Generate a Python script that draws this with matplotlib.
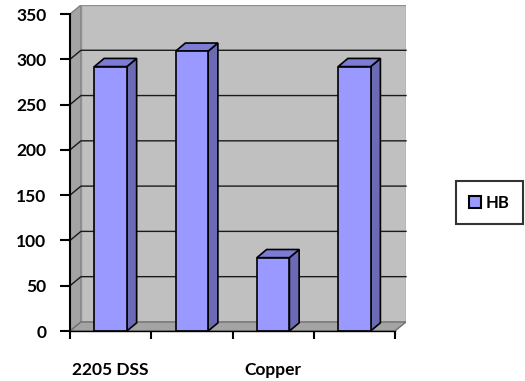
import matplotlib
matplotlib.use("Agg")
import matplotlib.pyplot as plt
from matplotlib.patches import Polygon, Rectangle, Patch

categories = ["2205 DSS", "", "Copper", ""]
hb_values = [292, 309, 81, 292]
y_ticks = [0, 50, 100, 150, 200, 250, 300, 350]

FRONT = "#9999ff"
SIDE = "#6a6ab5"
TOP = "#7c7cd6"
WALL = "#c0c0c0"
SIDE_WALL = "#a4a4a4"
FLOOR = "#a4a4a4"

# depth of the 3-D box, in data units (x: categories, y: HB)
WALL_DX = 0.135
WALL_DY = 10
BAR_W = 0.4
BAR_DX = 0.12
BAR_DY = 9

plt.rcParams["font.family"] = ["Lato", "DejaVu Sans"]
plt.rcParams["font.weight"] = "bold"

fig = plt.figure(figsize=(5.25, 3.81), dpi=100)
ax = fig.add_axes([70 / 525, 50 / 381, 336 / 525, 326 / 381])

n = len(categories)
ymax = y_ticks[-1]
ax.set_xlim(0, n + WALL_DX)
ax.set_ylim(0, ymax + WALL_DY)

# walls and floor
ax.add_patch(Polygon([(0, 0), (WALL_DX, WALL_DY), (WALL_DX, ymax + WALL_DY), (0, ymax)],
                     closed=True, facecolor=SIDE_WALL, edgecolor="#808080", lw=1, zorder=1))
ax.add_patch(Rectangle((WALL_DX, WALL_DY), n, ymax, facecolor=WALL,
                       edgecolor="#909090", lw=1, zorder=1))
ax.add_patch(Polygon([(0, 0), (n, 0), (n + WALL_DX, WALL_DY), (WALL_DX, WALL_DY)],
                     closed=True, facecolor=FLOOR, edgecolor="#707070", lw=1, zorder=1))

# gridlines on the back wall and the side wall
for v in y_ticks[1:-1]:
    ax.plot([0, WALL_DX, n + WALL_DX], [v, v + WALL_DY, v + WALL_DY],
            color="#1a1a1a", lw=1, zorder=2, clip_on=False)

# columns
for i, v in enumerate(hb_values):
    left = i + 0.5 - BAR_W / 2
    right = left + BAR_W
    ax.add_patch(Polygon([(right, 0), (right + BAR_DX, BAR_DY), (right + BAR_DX, v + BAR_DY), (right, v)],
                         closed=True, facecolor=SIDE, edgecolor="black", lw=1.2, zorder=3))
    ax.add_patch(Polygon([(left, v), (right, v), (right + BAR_DX, v + BAR_DY), (left + BAR_DX, v + BAR_DY)],
                         closed=True, facecolor=TOP, edgecolor="black", lw=1.2, zorder=3))
    ax.add_patch(Rectangle((left, 0), BAR_W, v, facecolor=FRONT, edgecolor="black",
                           lw=1.2, zorder=4))

for side in ["top", "right"]:
    ax.spines[side].set_visible(False)
ax.spines["left"].set_bounds(0, ymax)
ax.spines["bottom"].set_bounds(0, n)
ax.spines["left"].set_linewidth(1.5)
ax.spines["bottom"].set_linewidth(1)
ax.spines["left"].set_zorder(5)
ax.spines["bottom"].set_zorder(5)

ax.set_yticks(y_ticks)
ax.set_yticklabels([str(t) for t in y_ticks], fontsize=12.5, fontweight="bold")
ax.tick_params(axis="y", length=7, width=1.5, pad=10)

ax.set_xticks(range(n + 1))
ax.set_xticklabels([])
ax.set_xticks([i + 0.5 for i in range(n)], minor=True)
ax.set_xticklabels(categories, minor=True, fontsize=12.5, fontweight="bold")
ax.tick_params(axis="x", which="major", length=6, width=1.5)
ax.tick_params(axis="x", which="minor", length=0, pad=22)

leg = fig.legend(handles=[Patch(facecolor=FRONT, edgecolor="black", lw=1.5, label="HB")],
                 loc="center", bbox_to_anchor=(489.5 / 525, 1 - 202.5 / 381),
                 prop={"weight": "bold", "size": 12}, frameon=True, fancybox=False,
                 handlelength=0.7, handleheight=0.7, handletextpad=0.3,
                 borderpad=0.8, borderaxespad=0)
leg.get_frame().set_edgecolor("black")
leg.get_frame().set_linewidth(1.5)

fig.savefig("out.png", dpi=100)
